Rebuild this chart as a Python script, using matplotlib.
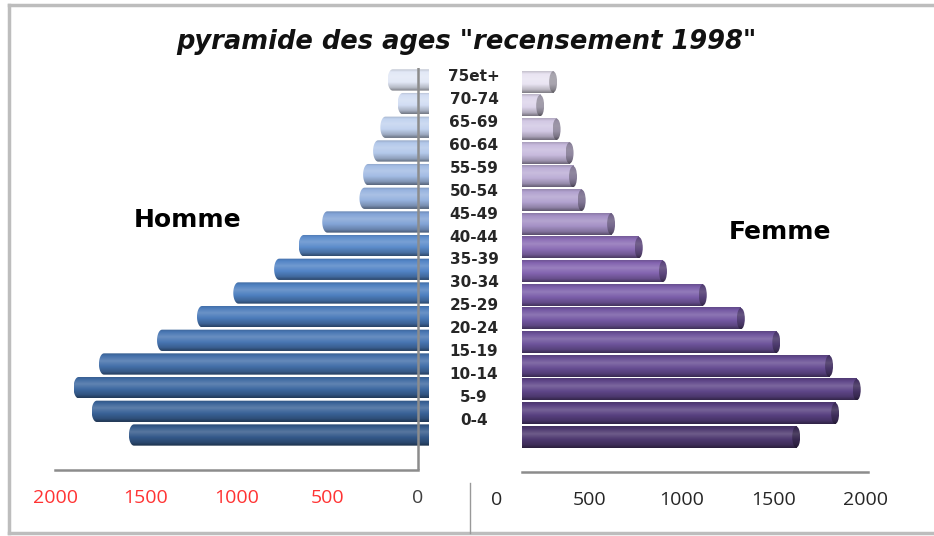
import numpy as np
import matplotlib
matplotlib.use("Agg")
import matplotlib.pyplot as plt
from matplotlib.colors import to_rgb
from matplotlib.patches import Polygon, Ellipse
from matplotlib.lines import Line2D

# Donnees (du bas vers le haut)
ages = ["0-4", "5-9", "10-14", "15-19", "20-24", "25-29", "30-34", "35-39",
        "40-44", "45-49", "50-54", "55-59", "60-64", "65-69", "70-74", "75et+"]
hommes = [1565, 1770, 1870, 1730, 1410, 1190, 990, 765, 630, 500, 295, 275, 220, 180, 85, 140]
femmes = [1585, 1810, 1935, 1775, 1470, 1265, 1045, 815, 675, 515, 345, 295, 275, 200, 105, 180]
graduations = [0, 500, 1000, 1500, 2000]

# Couleurs des barres (du bas vers le haut)
col_h = ["#34598a", "#3a6398", "#3e69a1", "#4470aa", "#4876b3", "#4b7bba", "#4e80c0", "#5284c6",
         "#5c8ccb", "#82a3d6", "#97b3df", "#a3bce4", "#b3c8ea", "#c2d3ef", "#d2ddf3", "#e2e8f6"]
col_f = ["#4e3970", "#584080", "#5f4689", "#674d93", "#6d539b", "#7458a3", "#7b5eaa", "#8364b0",
         "#8b6db5", "#a490c5", "#b2a2cf", "#bcaed6", "#c7badd", "#d2c8e4", "#ddd5eb", "#e9e4f2"]

W, H = 934, 536
HH = 0.45        # demi-hauteur des barres
DEPTH = 60       # profondeur 3D cote hommes
CAP_H = 28
CAP_F = 23


def shade(base, n=40, k=1.0):
    # degrade vertical facon cylindre
    t = np.linspace(0, 1, n)
    f = np.interp(t, [0, .12, .35, .6, .85, 1], [.85, 1.0, 1.12, 1.0, .8, .55])[:, None]
    b = np.array(to_rgb(base))
    out = np.where(f >= 1, b + (1 - b) * (f - 1) * 1.5, b * f) * k
    return np.clip(out, 0, 1)[:, None, :]


fig = plt.figure(figsize=(W / 100, H / 100), dpi=100, facecolor="white")

ylo = (435 - 470) / 23.67
yhi = (435 - 68) / 23.67
ax_h = fig.add_axes([55 / W, 1 - 470 / H, (429 - 55) / W, (470 - 68) / H])
ax_f = fig.add_axes([522 / W, 1 - 472 / H, (868 - 522) / W, (470 - 68) / H])

# --- Hommes ---
for i, (v, c) in enumerate(zip(hommes, col_h)):
    y0, y1 = i - HH, i + HH
    img = ax_h.imshow(shade(c), extent=(-DEPTH, v + CAP_H, y0, y1), aspect="auto",
                      origin="upper", interpolation="bilinear", zorder=2)
    phi = np.linspace(np.pi / 2, -np.pi / 2, 30)
    pts = [(-DEPTH, y1)] + list(zip(v + CAP_H * np.cos(phi), i + HH * np.sin(phi))) + [(-DEPTH, y0)]
    clip = Polygon(pts, closed=True, facecolor="none", edgecolor="none")
    ax_h.add_patch(clip)
    img.set_clip_path(clip)

ax_h.axvline(0, color="#8c8c8c", lw=1.8, zorder=5)
ax_h.set_xlim(2000, -DEPTH)
ax_h.set_ylim(ylo, yhi)
for s in ["top", "right", "left"]:
    ax_h.spines[s].set_visible(False)
ax_h.spines["bottom"].set_bounds(0, 2000)
ax_h.spines["bottom"].set_color("#8c8c8c")
ax_h.spines["bottom"].set_linewidth(1.8)
ax_h.set_yticks([])
ax_h.set_xticks(graduations)
ax_h.set_xticklabels([str(g) for g in graduations], fontsize=14, family="Open Sans")
ax_h.tick_params(axis="x", length=0, pad=14)
for lab, g in zip(ax_h.get_xticklabels(), graduations):
    lab.set_color("#404040" if g == 0 else "#ff3333")

# --- Femmes ---
for i, (v, c) in enumerate(zip(femmes, col_f)):
    y0, y1 = i - HH, i + HH
    ax_f.imshow(shade(c), extent=(0, v, y0, y1), aspect="auto",
                origin="upper", interpolation="bilinear", zorder=2)
    cap = Ellipse((v, i), 2 * CAP_F, 2 * HH, facecolor="none", edgecolor="none")
    ax_f.add_patch(cap)
    img = ax_f.imshow(shade(c, k=0.72), extent=(v - CAP_F, v + CAP_F, y0, y1), aspect="auto",
                      origin="upper", interpolation="bilinear", zorder=3)
    img.set_clip_path(cap)

ax_f.set_xlim(0, 2000)
ax_f.set_ylim(ylo, yhi)
for s in ["top", "right", "left"]:
    ax_f.spines[s].set_visible(False)
ax_f.spines["bottom"].set_color("#8c8c8c")
ax_f.spines["bottom"].set_linewidth(1.8)
ax_f.set_xticks([])
ax_f.set_yticks([])

# graduations de droite (decalees par rapport aux barres dans l'original)
ax_lab = fig.add_axes([497 / W, 1 - 472 / H, (866 - 497) / W, 0.001])
ax_lab.patch.set_visible(False)
ax_lab.set_xlim(0, 2000)
ax_lab.set_yticks([])
for s in ax_lab.spines.values():
    s.set_visible(False)
ax_lab.set_xticks(graduations)
ax_lab.set_xticklabels([str(g) for g in graduations], fontsize=14, family="Open Sans", color="#262626")
ax_lab.tick_params(axis="x", length=0, pad=14)

# tranches d'age au milieu
ax_age = fig.add_axes([444 / W, 1 - 470 / H, 60 / W, (470 - 68) / H])
ax_age.set_ylim(-50 / 22.87, 15 + 9 / 22.87)
ax_age.axis("off")
for i, a in enumerate(ages):
    ax_age.text(0.5, i, a, ha="center", va="center", fontsize=11, fontweight="bold", color="#262626")

# textes
fig.text(466 / W, 1 - 42 / H, 'pyramide des ages "recensement 1998"', ha="center", va="center",
         fontsize=18.5, fontweight="bold", style="italic", color="#111111")
fig.text(188 / W, 1 - 220 / H, "Homme", ha="center", va="center", fontsize=18, fontweight="bold")
fig.text(780 / W, 1 - 232 / H, "Femme", ha="center", va="center", fontsize=18, fontweight="bold")

# cadre et separateur
gris = "#bdbdbd"
fig.add_artist(Line2D([9 / W, 9 / W], [1 - 5 / H, 1 - 533 / H], color=gris, lw=2.5))
fig.add_artist(Line2D([9 / W, 1], [1 - 5 / H, 1 - 5 / H], color=gris, lw=2.5))
fig.add_artist(Line2D([9 / W, 1], [1 - 533 / H, 1 - 533 / H], color=gris, lw=2.5))
fig.add_artist(Line2D([470 / W, 470 / W], [1 - 483 / H, 1 - 533 / H], color="#999999", lw=1))

fig.savefig("out.png", dpi=100, facecolor="white")
